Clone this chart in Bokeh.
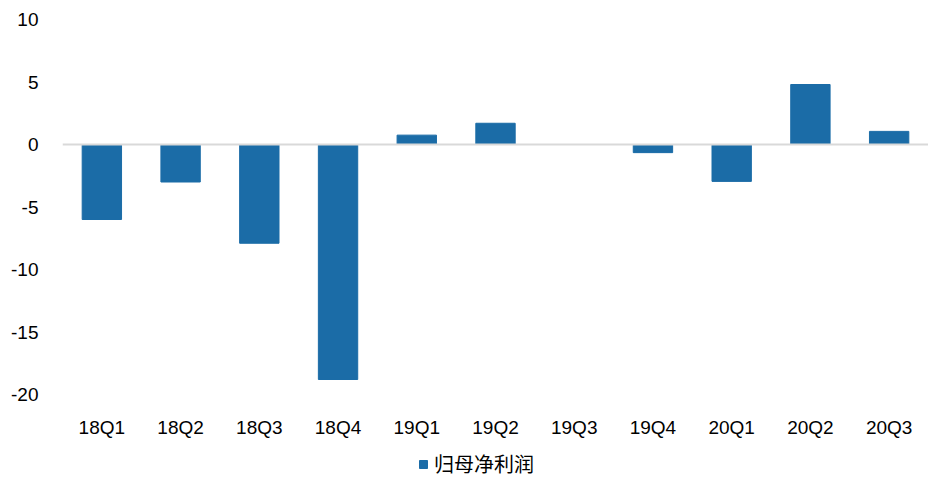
from bokeh.plotting import figure
from bokeh.layouts import column
from bokeh.models import ColumnDataSource, FactorRange, Range1d, Span, Legend, LegendItem, FixedTicker
from bokeh.embed import file_html
from bokeh.resources import INLINE

categories = ["18Q1", "18Q2", "18Q3", "18Q4", "19Q1", "19Q2", "19Q3", "19Q4", "20Q1", "20Q2", "20Q3"]
values = [-6.0, -3.0, -7.9, -18.8, 0.75, 1.7, 0.0, -0.65, -2.95, 4.8, 1.05]
series_name = "归母净利润"
y_ticks = [-20, -15, -10, -5, 0, 5, 10]
bar_color = "#1B6CA7"

source = ColumnDataSource(dict(cat=categories, val=values))

p = figure(width=928, height=440, output_backend="svg", toolbar_location=None,
           x_range=FactorRange(*categories, range_padding=0),
           y_range=Range1d(-20, 10),
           min_border_left=62, min_border_right=0, min_border_top=19, min_border_bottom=46)
p.outline_line_color = None
p.xgrid.grid_line_color = None
p.ygrid.grid_line_color = None

r = p.vbar(x="cat", top="val", bottom=0, width=0.5, source=source,
           fill_color=bar_color, line_color=bar_color)

zero = Span(location=0, dimension="width", line_color="#D9D9D9", line_width=2)
p.add_layout(zero)

font = "Liberation Sans"
p.yaxis.ticker = FixedTicker(ticks=y_ticks)
p.yaxis.major_label_overrides = {t: str(t) for t in y_ticks}
p.yaxis.axis_line_color = None
p.yaxis.major_tick_line_color = None
p.yaxis.minor_tick_line_color = None
p.yaxis.major_label_text_font = font
p.yaxis.major_label_text_font_size = "19px"
p.yaxis.major_label_text_color = "#000000"
p.yaxis.major_label_standoff = 18

p.xaxis.axis_line_color = None
p.xaxis.major_tick_line_color = None
p.xaxis.minor_tick_line_color = None
p.xaxis.major_label_text_font = font
p.xaxis.major_label_text_font_size = "19px"
p.xaxis.major_label_text_color = "#000000"
p.xaxis.major_label_standoff = 16

# legend strip below the chart (same series, drawn outside its visible range)
lg = figure(width=928, height=38, output_backend="svg", toolbar_location=None,
            x_range=FactorRange(*categories, range_padding=0), y_range=Range1d(100, 101),
            x_axis_location=None, y_axis_location=None,
            min_border=0, outline_line_color=None)
lg.grid.visible = False
lr = lg.vbar(x="cat", top="val", bottom=0, width=0.5, source=source,
             fill_color=bar_color, line_color=bar_color)
legend = Legend(items=[LegendItem(label=series_name, renderers=[lr])],
                location=(356, 0), orientation="horizontal",
                glyph_width=10, glyph_height=10, label_text_font="Noto Sans CJK SC",
                label_text_font_size="20px", label_text_color="#000000",
                border_line_color=None, background_fill_alpha=0,
                margin=0, padding=0, label_standoff=6)
lg.add_layout(legend, "center")

open("out.html", "w").write(file_html(column(p, lg, spacing=0), INLINE))
